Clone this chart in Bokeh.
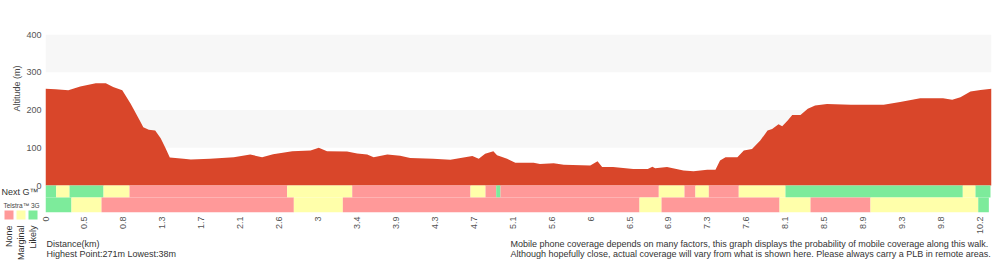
import math
from bokeh.plotting import figure
from bokeh.models import Range1d, FixedTicker, BoxAnnotation, ColumnDataSource, GridBox, Column
from bokeh.core.properties import value
from bokeh.embed import file_html
from bokeh.resources import INLINE

# ---------------- data ----------------
dist_km = [0.00, 0.11, 0.25, 0.38, 0.55, 0.66, 0.74, 0.84, 0.93, 0.96,
           1.04, 1.07, 1.13, 1.20, 1.26, 1.31, 1.36, 1.51, 1.59, 1.80,
           2.06, 2.24, 2.37, 2.49, 2.70, 2.90, 2.99, 3.08, 3.30, 3.41,
           3.52, 3.59, 3.74, 3.88, 3.99, 4.24, 4.43, 4.67, 4.74, 4.81,
           4.90, 4.94, 4.98, 5.05, 5.14, 5.34, 5.41, 5.56, 5.67, 5.96,
           6.04, 6.09, 6.21, 6.43, 6.59, 6.64, 6.67, 6.80, 6.98, 7.09,
           7.24, 7.33, 7.38, 7.44, 7.57, 7.64, 7.73, 7.82, 7.90, 7.95,
           8.02, 8.06, 8.12, 8.17, 8.26, 8.34, 8.42, 8.55, 8.81, 9.17,
           9.35, 9.57, 9.82, 9.92, 10.01, 10.12, 10.23, 10.35]
elev_m = [256, 255, 252, 262, 271, 271, 261, 252, 217, 204,
          168, 154, 148, 146, 125, 101, 74, 71, 69, 71,
          75, 82, 75, 83, 91, 93, 100, 91, 90, 85,
          82, 75, 82, 79, 73, 71, 68, 78, 71, 84,
          91, 80, 77, 71, 60, 60, 57, 59, 55, 53,
          64, 49, 49, 44, 44, 50, 46, 49, 40, 38,
          42, 42, 66, 75, 75, 93, 97, 119, 146, 150,
          162, 157, 172, 187, 187, 203, 212, 216, 214, 214,
          221, 231, 231, 227, 234, 249, 253, 256]

# coverage: 0 = None, 1 = Marginal, 2 = Likely
nextg_edges = [0.0, 0.117, 0.263, 0.635, 0.919, 2.644, 3.356, 4.650, 4.814, 4.931,
               4.978, 6.710, 6.991, 7.111, 7.257, 7.585, 8.096, 10.036, 10.175, 10.339]
nextg_levels = [2, 1, 2, 1, 0, 1, 0, 1, 0, 2, 0, 1, 0, 1, 0, 1, 2, 1, 2]
g3_edges = [0.0, 0.284, 0.613, 2.717, 3.253, 6.499, 6.740, 8.031, 8.370, 9.026, 10.205, 10.321]
g3_levels = [2, 1, 0, 1, 0, 1, 0, 1, 0, 1, 2]

tick_labels = ["0", "0.5", "0.8", "1.3", "1.7", "2.1", "2.6", "3", "3.4", "3.9", "4.3", "4.7",
               "5.1", "5.6", "6", "6.5", "6.9", "7.3", "7.6", "8.1", "8.5", "8.9", "9.3", "9.8", "10.2"]
y_ticks = [0, 100, 200, 300, 400]
level_names = ["None", "Marginal", "Likely"]
level_colors = ["#ff9999", "#ffffaa", "#7deb9b"]
highest = max(elev_m)
lowest = min(elev_m)

# ---------------- layout ----------------
W, H = 1000, 260
LEFT, RIGHT, TOP, BOTTOM = 45, 9, 34, 48
X0, X1 = 0.0, 10.35
Y0, Y1 = -71.5, 400
FONT = "Liberation Sans"
AREA = "#d9462a"


def sy(py):
    return Y1 - (py - TOP) * (Y1 - Y0) / (H - TOP - BOTTOM)


p = figure(width=W, height=H, x_range=Range1d(X0, X1), y_range=Range1d(Y0, Y1),
           output_backend="svg", toolbar_location=None,
           min_border_left=LEFT, min_border_right=RIGHT,
           min_border_top=TOP, min_border_bottom=BOTTOM)
p.outline_line_color = None
p.grid.visible = False
p.background_fill_color = "white"
p.border_fill_color = "white"

# alternating bands
for lo, hi in [(100, 200), (300, 400)]:
    p.add_layout(BoxAnnotation(bottom=lo, top=hi, fill_color="#f7f7f7", fill_alpha=1,
                               line_color=None, level="underlay"))

# elevation area
src = ColumnDataSource(dict(d=dist_km, e=elev_m))
p.varea(x="d", y1=0, y2="e", source=src, fill_color=AREA)

# coverage rows
row_split = sy(197)
for edges, levels, top, bottom in [(nextg_edges, nextg_levels, 0, row_split),
                                   (g3_edges, g3_levels, row_split, Y0)]:
    cs = ColumnDataSource(dict(
        left=edges[:-1], right=edges[1:],
        color=[level_colors[l] for l in levels]))
    p.quad(left="left", right="right", top=top, bottom=bottom, source=cs,
           fill_color="color", line_color=None)

# axes
tick_pos = [round(i * 0.426, 4) for i in range(len(tick_labels))]
xa = p.xaxis[0]
xa.ticker = FixedTicker(ticks=tick_pos)
xa.major_label_overrides = {tp: lab for tp, lab in zip(tick_pos, tick_labels)}
xa.major_label_orientation = math.pi / 2
ya = p.yaxis[0]
ya.ticker = FixedTicker(ticks=y_ticks)
for ax in (xa, ya):
    ax.axis_line_color = None
    ax.major_tick_line_color = None
    ax.minor_tick_line_color = None
    ax.major_tick_out = 0
    ax.major_tick_in = 0
    ax.major_label_standoff = 4
    ax.major_label_text_font_size = "9px"
    ax.major_label_text_color = "#555555"
    ax.major_label_text_font = FONT

# ---------------- overlay for texts outside the plot frame ----------------
ov = figure(width=W, height=H, x_range=Range1d(0, W), y_range=Range1d(H, 0),
            output_backend="svg", toolbar_location=None,
            x_axis_location=None, y_axis_location=None,
            min_border_left=0, min_border_right=0, min_border_top=0, min_border_bottom=0)
ov.outline_line_color = None
ov.background_fill_alpha = 0
ov.border_fill_alpha = 0
ov.xgrid.visible = False
ov.ygrid.visible = False
aligned = "frame_align" in ov.properties()
if aligned:
    ov.frame_align = False
    p.frame_align = False


def txt(px, py, text, size="9px", align="left", angle=0, color="#333333"):
    ov.text(x=[px], y=[py], text=[text], angle=angle, text_align=align,
            text_baseline="middle", text_font=value(FONT),
            text_font_size=value(size), text_color=color)


txt(16, 88, "Altitude (m)", align="center", angle=math.pi / 2, color="#444444")
txt(1, 191, "Next G\u2122")
txt(3, 205, "Telstra\u2122 3G", size="6.5px", color="#444444")
sq_x = [8.5, 20.5, 32.5]
ov.rect(x=sq_x, y=[214.5] * 3, width=9, height=9, fill_color=level_colors,
        line_color=None)
for cx, name in zip(sq_x, level_names):
    txt(cx, 225, name, align="right", angle=math.pi / 2)

txt(46, 243.5, "Distance(km)")
txt(46, 253, f"Highest Point:{highest}m Lowest:{lowest}m")
txt(510, 243, "Mobile phone coverage depends on many factors, this graph displays the probability of mobile coverage along this walk.")
txt(510, 253, "Although hopefully close, actual coverage will vary from what is shown here. Please always carry a PLB in remote areas.")

if aligned:
    layout = GridBox(children=[(p, 0, 0), (ov, 0, 0)])
else:
    layout = GridBox(children=[(Column(children=[p]), 0, 0), (Column(children=[ov]), 0, 0)])
open("out.html", "w").write(file_html(layout, INLINE))
